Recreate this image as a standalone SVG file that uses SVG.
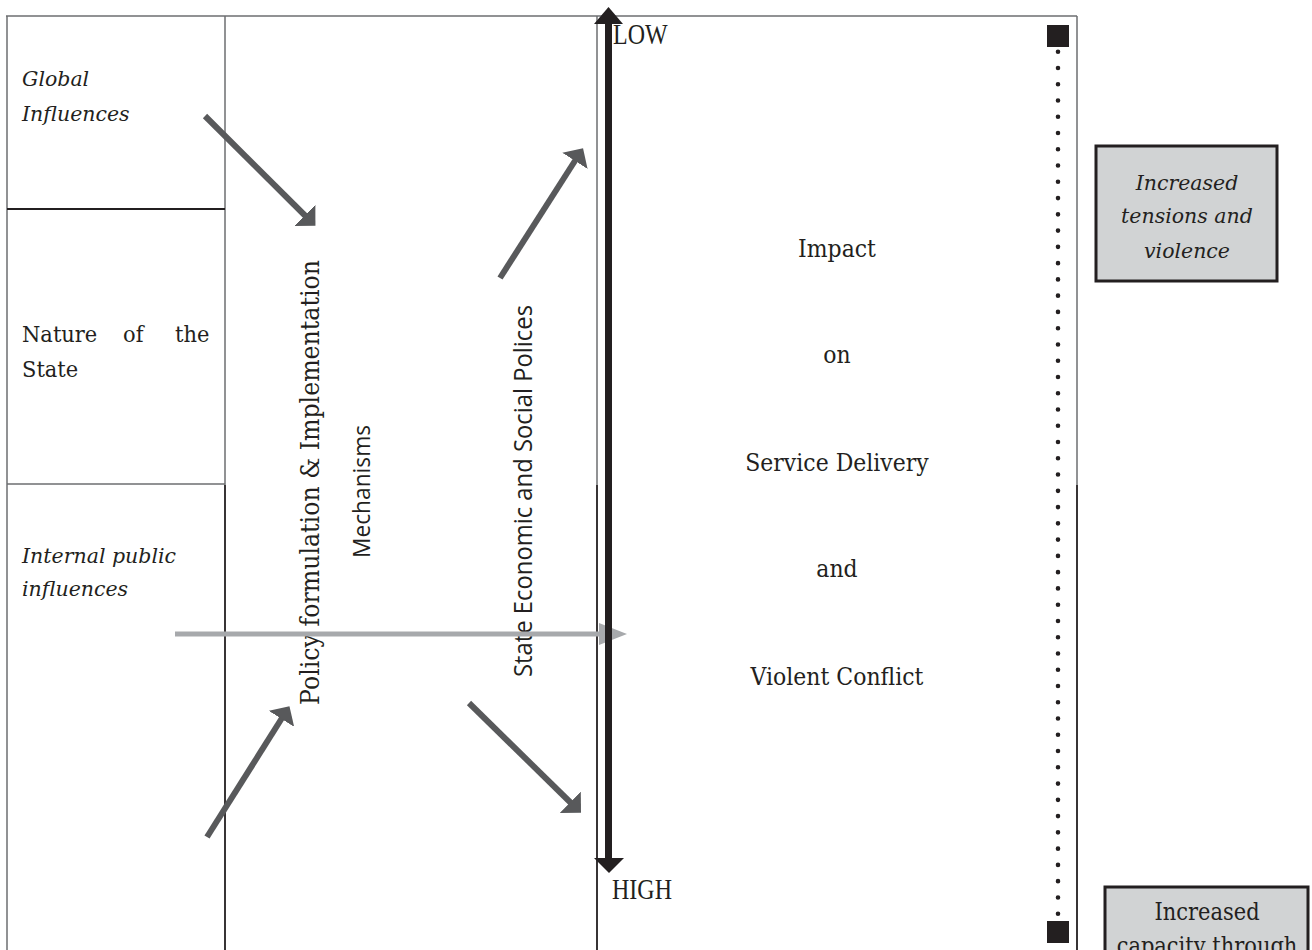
<svg xmlns="http://www.w3.org/2000/svg" width="1312" height="950" viewBox="0 0 1312 950">
  <style>
    .bg { fill: #ffffff; }
    .rule-gray { stroke: #6d6e71; stroke-width: 1.5; fill: none; }
    .rule-dark { stroke: #231f20; stroke-width: 1.8; fill: none; }
    .serif { font-family: "DejaVu Serif", "Liberation Serif", serif; fill: #231f20; }
    .ital { font-family: "DejaVu Serif", "Liberation Serif", serif; font-style: italic; fill: #231f20; font-size: 20.5px; }
    .sans { font-family: "Open Sans", "Noto Sans", "Liberation Sans", sans-serif; fill: #231f20; }
    .times { font-family: "Liberation Serif", "Times New Roman", serif; fill: #231f20; font-size: 24px; }
    .impact { font-size: 22px; text-anchor: middle; }
    .flow { stroke: #58595b; stroke-width: 6; fill: none; marker-end: url(#head-gray); }
    .callout { fill: #d1d3d4; stroke: #231f20; stroke-width: 3; }
    .mid { text-anchor: middle; }
  </style>
  <defs>
    <!-- right-angled arrowhead; refX sits at the base so the shaft butts into it -->
    <marker id="head-gray" markerUnits="userSpaceOnUse" markerWidth="16" markerHeight="30"
            viewBox="0 0 16 30" refX="1" refY="15" orient="auto">
      <path d="M0,0 L15,15 L0,30 Z" fill="#58595b"/>
    </marker>
  </defs>

  <rect class="bg" x="0" y="0" width="1312" height="950"/>

  <!-- frame and column rules -->
  <g id="frame">
    <line class="rule-gray" x1="6" y1="16" x2="1077" y2="16"/>
    <line class="rule-gray" x1="7" y1="16" x2="7" y2="950"/>
    <line class="rule-gray" x1="225" y1="16" x2="225" y2="485"/>
    <line class="rule-dark" x1="225" y1="485" x2="225" y2="950"/>
    <line class="rule-gray" x1="597" y1="16" x2="597" y2="485"/>
    <line class="rule-dark" x1="597" y1="485" x2="597" y2="950"/>
    <line class="rule-gray" x1="1077" y1="16" x2="1077" y2="485"/>
    <line class="rule-dark" x1="1077" y1="485" x2="1077" y2="950"/>
    <line class="rule-dark" x1="7" y1="209" x2="225" y2="209"/>
    <line class="rule-gray" x1="7" y1="484" x2="225" y2="484"/>
  </g>

  <g id="global-influences">
    <text class="ital" x="22" y="86">Global</text>
    <text class="ital" x="22" y="121">Influences</text>
  </g>

  <g id="nature-of-state">
    <text class="serif" font-size="21" transform="translate(22,342) scale(1,1.08)">Nature</text>
    <text class="serif" font-size="21" transform="translate(123,342) scale(1,1.08)">of</text>
    <text class="serif" font-size="21" transform="translate(175,342) scale(1,1.08)">the</text>
    <text class="serif" font-size="21" transform="translate(22,377) scale(1,1.08)">State</text>
  </g>

  <g id="internal-influences">
    <text class="ital" x="22" y="563">Internal public</text>
    <text class="ital" x="22" y="596">influences</text>
  </g>

  <g id="policy-formulation">
    <text class="serif" font-size="26" transform="translate(319,705) rotate(-90)" textLength="445" lengthAdjust="spacingAndGlyphs">Policy formulation &amp; Implementation</text>
    <text class="sans" font-size="23" transform="translate(370,558) rotate(-90)" textLength="133" lengthAdjust="spacingAndGlyphs">Mechanisms</text>
  </g>

  <g id="state-policies">
    <text class="sans" font-size="25" transform="translate(532,677) rotate(-90)" textLength="372" lengthAdjust="spacingAndGlyphs">State Economic and Social Polices</text>
  </g>

  <!-- connectors -->
  <g id="connectors">
    <line class="flow" x1="205" y1="116" x2="305.5" y2="216"/>
    <line class="flow" x1="500" y1="278" x2="575.5" y2="160"/>
    <line class="flow" x1="207" y1="837" x2="282" y2="718"/>
    <line class="flow" x1="469" y1="703" x2="571" y2="803"/>
    <!-- light horizontal flow across the columns -->
    <line x1="175" y1="634" x2="600" y2="634" stroke="#a7a9ac" stroke-width="5"/>
    <polygon points="599,623 627,634 599,645" fill="#a7a9ac"/>
  </g>

  <!-- LOW / HIGH scale -->
  <g id="scale">
    <line x1="608.5" y1="22" x2="608.5" y2="860" stroke="#231f20" stroke-width="7"/>
    <polygon points="594,24 608.5,7 623,24" fill="#231f20"/>
    <polygon points="594,858 609,873 624,858" fill="#231f20"/>
    <text class="times" transform="translate(613,44) scale(1,1.2)">LOW</text>
    <text class="times" transform="translate(612,899) scale(1,1.2)">HIGH</text>
  </g>

  <g id="impact">
    <text class="serif impact" transform="translate(837,257) scale(1,1.12)">Impact</text>
    <text class="serif impact" transform="translate(837,363) scale(1,1.12)">on</text>
    <text class="serif impact" transform="translate(837,471) scale(1,1.12)">Service Delivery</text>
    <text class="serif impact" transform="translate(837,577) scale(1,1.12)">and</text>
    <text class="serif impact" transform="translate(837,685) scale(1,1.12)">Violent Conflict</text>
  </g>

  <!-- dotted continuum with square end-stops -->
  <g id="continuum">
    <rect x="1047" y="25" width="22" height="22" fill="#231f20"/>
    <line x1="1058" y1="51.7" x2="1058" y2="914" stroke="#231f20" stroke-width="4.6"
          stroke-linecap="round" stroke-dasharray="0 16.264"/>
    <rect x="1047" y="921" width="22" height="22" fill="#231f20"/>
  </g>

  <g id="tensions-box">
    <rect class="callout" x="1096" y="146" width="181" height="135"/>
    <text class="ital mid" x="1187" y="190" font-size="21">Increased</text>
    <text class="ital mid" x="1187" y="223" font-size="21">tensions and</text>
    <text class="ital mid" x="1187" y="258" font-size="21">violence</text>
  </g>

  <g id="capacity-box">
    <rect class="callout" x="1105" y="887" width="203" height="90"/>
    <text class="serif mid" font-size="21" transform="translate(1207,920) scale(1,1.12)">Increased</text>
    <text class="serif mid" font-size="21" transform="translate(1207,954) scale(1,1.12)">capacity through</text>
  </g>
</svg>
